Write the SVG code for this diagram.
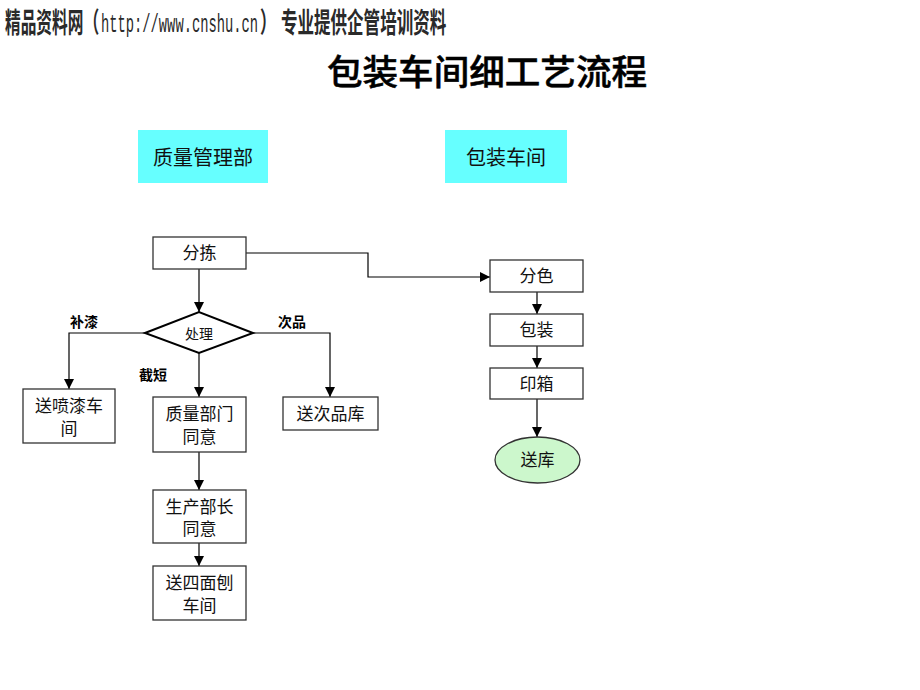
<svg xmlns="http://www.w3.org/2000/svg" width="920" height="690" viewBox="0 0 920 690">
<defs>
<marker id="arr" viewBox="0 0 10 10" refX="10" refY="5" markerWidth="10" markerHeight="10" markerUnits="userSpaceOnUse" orient="auto">
<path d="M0,0 L10,5 L0,10 z" fill="#000"/>
</marker>
<style>
.t{font-family:"Liberation Serif","Noto Sans CJK SC",serif;fill:#111;text-anchor:middle}
.n{font-size:17px}
.box{fill:#fff;stroke:#333;stroke-width:1.3}
.hd{fill:#66ffff}
.lb{font-family:"Liberation Sans","Noto Sans CJK SC",sans-serif;font-size:14px;font-weight:bold;fill:#000}
.c{fill:none;stroke:#000;stroke-width:1.2;marker-end:url(#arr)}
.top{font-family:"Liberation Sans","Noto Sans CJK SC",sans-serif;font-size:28px;font-weight:bold;fill:#2a2a2a}
</style>
</defs>
<rect width="920" height="690" fill="#fff"/>
<g id="header">
<text class="top" transform="translate(5,33) scale(0.56,1)" x="0" y="0">精品资料网（</text>
<text transform="translate(101,32) scale(0.53,1)" x="0" y="0" font-family="'Liberation Mono',monospace" font-size="26" fill="#2a2a2a">http://www.cnshu.cn</text>
<text class="top" transform="translate(260,33) scale(0.59,1)" x="0" y="0">） 专业提供企管培训资料</text>
</g>
<text x="487" y="85" font-family="'Noto Sans CJK SC',sans-serif" font-size="35" font-weight="500" fill="#000" stroke="#000" stroke-width="0.5" text-anchor="middle" textLength="320" lengthAdjust="spacingAndGlyphs">包装车间细工艺流程</text>

<g id="hdr-qm"><rect class="hd" x="138" y="130" width="130" height="53"/><text class="t" x="203" y="165" font-size="20">质量管理部</text></g>
<g id="hdr-bz"><rect class="hd" x="445" y="130" width="122" height="53"/><text class="t" x="506" y="165" font-size="20">包装车间</text></g>

<g id="connectors">
<path class="c" d="M246,253 H368 V277 H490"/>
<path class="c" d="M199,269 V312"/>
<path class="c" d="M145,333 H69 V389"/>
<path class="c" d="M253,333 H330 V397"/>
<path class="c" d="M199,353 V397"/>
<path class="c" d="M199,452 V490"/>
<path class="c" d="M199,543 V566"/>
<path class="c" d="M537,292 V314"/>
<path class="c" d="M537,346 V368"/>
<path class="c" d="M537,399 V437"/>
</g>

<g id="n-fenjian"><rect class="box" x="153" y="237" width="93" height="32"/><text class="t n" x="199.5" y="259">分拣</text></g>
<g id="n-chuli"><path d="M145,333 L199,312 L253,333 L199,353 z" fill="#fff" stroke="#000" stroke-width="2"/><text class="t" x="199" y="339" font-size="14">处理</text></g>
<g id="n-penqi"><rect class="box" x="23" y="389" width="92" height="54"/><text class="t n" x="69" y="412">送喷漆车</text><text class="t n" x="69" y="435">间</text></g>
<g id="n-zhiliang"><rect class="box" x="153" y="397" width="93" height="55"/><text class="t n" x="199.5" y="420">质量部门</text><text class="t n" x="199.5" y="443">同意</text></g>
<g id="n-ciping"><rect class="box" x="283" y="397" width="95" height="33"/><text class="t n" x="330.5" y="420">送次品库</text></g>
<g id="n-shengchan"><rect class="box" x="153" y="490" width="93" height="53"/><text class="t n" x="199.5" y="513">生产部长</text><text class="t n" x="199.5" y="535">同意</text></g>
<g id="n-simian"><rect class="box" x="153" y="566" width="93" height="54"/><text class="t n" x="199.5" y="589">送四面刨</text><text class="t n" x="199.5" y="612">车间</text></g>
<g id="n-fense"><rect class="box" x="490" y="260" width="93" height="32"/><text class="t n" x="536.5" y="282">分色</text></g>
<g id="n-baozhuang"><rect class="box" x="490" y="314" width="93" height="32"/><text class="t n" x="536.5" y="336">包装</text></g>
<g id="n-yinxiang"><rect class="box" x="490" y="368" width="93" height="31"/><text class="t n" x="536.5" y="390">印箱</text></g>
<g id="n-songku"><ellipse cx="537.5" cy="460" rx="42.5" ry="23" fill="#ccf7cc" stroke="#333" stroke-width="1.3"/><text class="t n" x="537.5" y="466">送库</text></g>

<text class="lb" x="70" y="327">补漆</text>
<text class="lb" x="278" y="327">次品</text>
<text class="lb" x="139" y="380">截短</text>
</svg>
